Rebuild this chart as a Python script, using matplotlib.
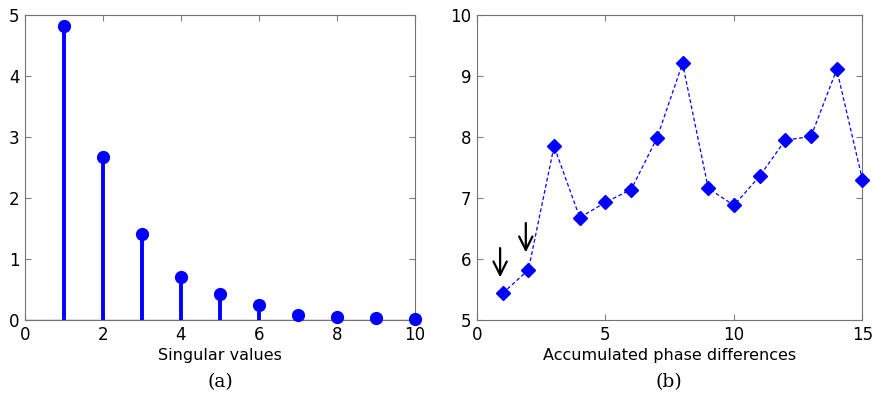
import numpy as np
import matplotlib.pyplot as plt

# (a) singular values
sv_idx = [1, 2, 3, 4, 5, 6, 7, 8, 9, 10]
sv_vals = [4.82, 2.67, 1.41, 0.71, 0.42, 0.25, 0.077, 0.055, 0.04, 0.01]

# (b) accumulated phase differences
ph_idx = list(range(1, 16))
ph_vals = [5.44, 5.82, 7.85, 6.68, 6.93, 7.14, 7.98, 9.21, 7.16, 6.88,
           7.36, 7.95, 8.01, 9.11, 7.30]
arrow_x = [0.9, 1.9]
arrow_tops = [6.18, 6.59]
arrow_tips = [5.70, 6.11]

fig = plt.figure(figsize=(8.76, 3.99), dpi=100)
ax1 = fig.add_axes([0.0285, 0.198, 0.445, 0.764])
ax2 = fig.add_axes([0.5445, 0.198, 0.440, 0.764])

blue = (0, 0, 1)

ml, sl, bl = ax1.stem(sv_idx, sv_vals, basefmt=" ")
plt.setp(sl, color=blue, linewidth=2.8)
plt.setp(ml, color=blue, markersize=8.5, clip_on=False, zorder=3)
ax1.axhline(0, color="0.45", linewidth=1, zorder=0)
ax1.set_xlim(0, 10)
ax1.set_ylim(0, 5)
ax1.set_xticks([0, 2, 4, 6, 8, 10])
ax1.set_yticks([0, 1, 2, 3, 4, 5])
ax1.set_xlabel("Singular values", fontsize=11.5, labelpad=3)

ax2.plot(ph_idx, ph_vals, linestyle=(0, (3, 2)), color=blue, linewidth=0.9,
         marker="D", markersize=7, clip_on=False, zorder=3)
for x, y0, y1 in zip(arrow_x, arrow_tops, arrow_tips):
    ax2.annotate("", xy=(x, y1), xytext=(x, y0),
                 arrowprops=dict(arrowstyle="->,head_length=0.6,head_width=0.3",
                                 color="black", lw=1.6, mutation_scale=16,
                                 shrinkA=0, shrinkB=0))
ax2.set_xlim(0, 15)
ax2.set_ylim(5, 10)
ax2.set_xticks([0, 5, 10, 15])
ax2.set_yticks([5, 6, 7, 8, 9, 10])
ax2.set_xlabel("Accumulated phase differences", fontsize=11.5, labelpad=3)

for ax in (ax1, ax2):
    ax.tick_params(direction="in", top=True, right=True, labelsize=12,
                   length=4, color="0.5", pad=4)
    for s in ax.spines.values():
        s.set_color("0.45")

fig.text(0.251, 0.03, "(a)", ha="center", fontsize=13.5, family="serif")
fig.text(0.764, 0.03, "(b)", ha="center", fontsize=13.5, family="serif")

fig.savefig("out.png", dpi=100)
